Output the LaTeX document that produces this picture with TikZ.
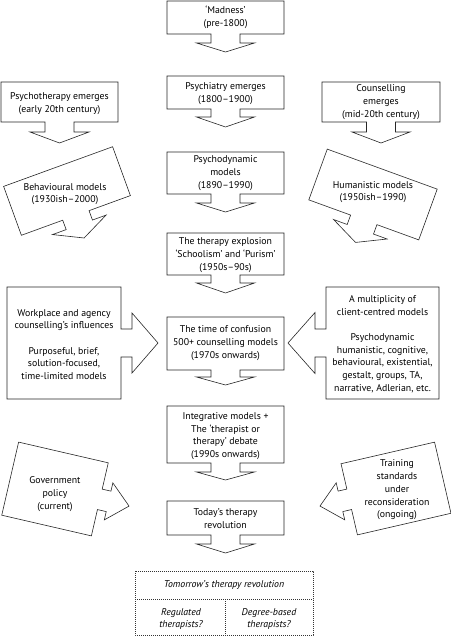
\documentclass[tikz,border=0pt]{standalone}
\usepackage{fontspec}
\setmainfont{PT Sans}
\tikzset{
  shp/.style={draw=black!85, line width=0.6pt, line join=miter},
  dotbox/.style={draw=black!80, line width=0.6pt, dash pattern=on 0.7pt off 1.3pt},
  txt/.style={align=center, font=\fontsize{9.8}{12.7}\selectfont, inner sep=0pt, text=black},
  itxt/.style={txt, font=\fontsize{9.8}{12.7}\selectfont\itshape},
}
% #1,#2 centre; #3 rotation; #4 w; #5 h; #6 stem width; #7 stem length; #8 head width; #9 head length
\newcommand{\mkdown}[9]{\draw[shp,shift={(#1,#2)},rotate=#3]
 (-#4/2,-#5/2) -- (#4/2,-#5/2) -- (#4/2,#5/2) -- (#6/2,#5/2) -- (#6/2,#5/2+#7) -- (#8/2,#5/2+#7) -- (0,#5/2+#7+#9) -- (-#8/2,#5/2+#7) -- (-#6/2,#5/2+#7) -- (-#6/2,#5/2) -- (-#4/2,#5/2) -- cycle;}
\newcommand{\mkright}[9]{\draw[shp,shift={(#1,#2)},rotate=#3]
 (-#4/2,-#5/2) -- (#4/2,-#5/2) -- (#4/2,-#6/2) -- (#4/2+#7,-#6/2) -- (#4/2+#7,-#8/2) -- (#4/2+#7+#9,0) -- (#4/2+#7,#8/2) -- (#4/2+#7,#6/2) -- (#4/2,#6/2) -- (#4/2,#5/2) -- (-#4/2,#5/2) -- cycle;}
\newcommand{\mkleft}[9]{\draw[shp,shift={(#1,#2)},rotate=#3]
 (#4/2,-#5/2) -- (-#4/2,-#5/2) -- (-#4/2,-#6/2) -- (-#4/2-#7,-#6/2) -- (-#4/2-#7,-#8/2) -- (-#4/2-#7-#9,0) -- (-#4/2-#7,#8/2) -- (-#4/2-#7,#6/2) -- (-#4/2,#6/2) -- (-#4/2,#5/2) -- (#4/2,#5/2) -- cycle;}
\begin{document}
\begin{tikzpicture}[x=1pt,y=-1pt]
\useasboundingbox (0,0) rectangle (450,637);
% shapes
\mkdown{225.5}{17.5}{0}{117}{33}{29}{9}{58}{9}
\mkdown{225.5}{92.5}{0}{117}{33}{29}{8}{58}{10}
\mkdown{59.5}{102}{0}{117}{40}{29}{10}{59}{11}
\mkdown{381}{102}{0}{118}{40}{29}{10}{58}{11}
\mkdown{67}{191}{20}{116}{52}{28}{10}{57}{14}
\mkdown{373}{194.5}{-20}{117}{54}{28}{10}{57}{14}
\mkdown{225.5}{173}{0}{117}{42}{29}{9}{58}{9}
\mkdown{225.5}{254}{0}{117}{42}{29}{8}{58}{10}
\mkright{64}{343}{0}{114}{112}{28}{11}{60}{26}
\mkleft{382.5}{343}{0}{113}{112}{28}{11}{61}{27}
\mkdown{225.5}{343.5}{0}{117}{53}{29}{7}{58}{8}
\mkdown{225.5}{434.5}{0}{117}{57}{29}{9}{58}{8}
\mkright{55}{489}{-13}{92}{75}{21}{9}{38}{21}
\mkleft{396}{488.5}{13}{96}{73}{21}{9}{38}{21}
\mkdown{225.5}{518}{0}{117}{34}{29}{9}{58}{9}
\draw[dotbox] (135,571) rectangle (313,635);
\draw[dotbox] (135,599) -- (313,599);
\draw[dotbox] (225,599) -- (225,635);
% texts
\node[txt] (madness) at (225.5,17.5) {‘Madness’\\(pre-1800)};
\node[txt] (psychiatry) at (225.5,93.5) {Psychiatry emerges\\(1800–1900)};
\node[txt] (psychotherapy) at (59.5,103.5) {Psychotherapy emerges\\(early 20th century)};
\node[txt] (counselling) at (381,102) {Counselling\\emerges\\(mid-20th century)};
\node[txt] (behavioural) at (65,194) {Behavioural models\\(1930ish–2000)};
\node[txt] (psychodynamic) at (225.5,173) {Psychodynamic\\models\\(1890–1990)};
\node[txt] (humanistic) at (373,192) {Humanistic models\\(1950ish–1990)};
\node[txt] (explosion) at (225.5,255) {The therapy explosion\\‘Schoolism’ and ‘Purism’\\(1950s–90s)};
\node[txt] (workplace) at (64,344.5) {Workplace and agency\\counselling’s influences\\[12.7pt]Purposeful, brief,\\solution-focused,\\time-limited models};
\node[txt] (confusion) at (225.5,343) {The time of confusion\\500+ counselling models\\(1970s onwards)};
\node[txt] (multiplicity) at (382.5,344) {A multiplicity of\\client-centred models\\[12.7pt]Psychodynamic\\humanistic, cognitive,\\behavioural, existential,\\gestalt, groups, TA,\\narrative, Adlerian, etc.};
\node[txt] (integrative) at (225.5,436) {Integrative models +\\The ‘therapist or\\therapy’ debate\\(1990s onwards)};
\node[txt] (government) at (55,494) {Government\\policy\\(current)};
\node[txt] (training) at (397,490) {Training\\standards\\under\\reconsideration\\(ongoing)};
\node[txt] (today) at (225.5,518.5) {Today’s therapy\\revolution};
\node[itxt] (tomorrow) at (224,585) {Tomorrow’s therapy revolution};
\node[itxt] (regulated) at (181,619) {Regulated\\therapists?};
\node[itxt] (degree) at (269,619) {Degree-based\\therapists?};
\end{tikzpicture}
\end{document}
